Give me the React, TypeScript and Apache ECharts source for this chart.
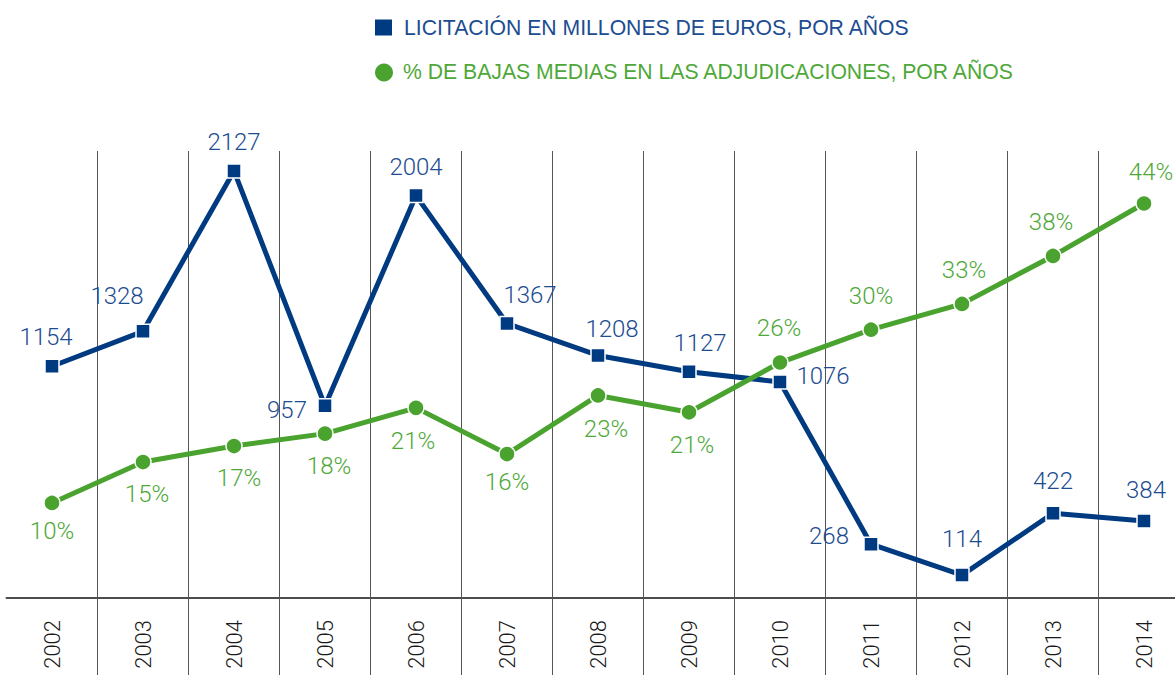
import React, { useEffect, useRef } from "react";
import * as echarts from "echarts";

const years = ["2002", "2003", "2004", "2005", "2006", "2007", "2008", "2009", "2010", "2011", "2012", "2013", "2014"];
const licitacion = [1154, 1328, 2127, 957, 2004, 1367, 1208, 1127, 1076, 268, 114, 422, 384];
const bajas = [10.4, 15.0, 16.8, 18.2, 21.1, 15.9, 22.5, 20.6, 26.2, 29.9, 32.8, 38.2, 44.1];

const legendBlue = "LICITACIÓN EN MILLONES DE EUROS, POR AÑOS";
const legendGreen = "% DE BAJAS MEDIAS EN LAS ADJUDICACIONES, POR AÑOS";

// label offsets relative to each marker (style only)
const blueLabelOffsets = [
  [-6, -29], [-26, -35], [0, -29], [-38, 4], [0, -29], [23, -29], [14, -26],
  [11, -29], [43, -6], [-42, -8], [0, -36], [0, -32], [2, -31],
];
const greenLabelOffsets = [
  [0, 28], [4, 32], [5, 32], [4, 32], [-3, 33], [0, 28], [8, 34],
  [3, 33], [-1, -35], [0, -34], [2, -34], [-2, -34], [7, -32],
];

const BLUE = "#003a80";
const BLUE_TEXT = "#1c4c91";
const GREEN = "#4aa32f";
const GREEN_TEXT = "#4ea838";
const FONT = "Roboto";
const LEGEND_FONT = "'Liberation Sans'";

const CHART_W = 1200;

export default function App() {
  const ref = useRef<HTMLDivElement>(null);
  useEffect(() => {
    if (!ref.current) return;
    const chart = echarts.init(ref.current, null, { renderer: "svg" });
    const tickInterval = (i: number) => i > 0;
    chart.setOption({
      animation: false,
      textStyle: { fontFamily: FONT },
      grid: { left: 6.5, right: CHART_W - 6.5 - 13 * 91, top: 96, bottom: 77 },
      graphic: [
        { type: "rect", left: 375, top: 19.5, shape: { width: 17, height: 16 }, style: { fill: BLUE } },
        {
          type: "text", left: 404, top: 17,
          style: { text: legendBlue, fill: BLUE_TEXT, font: `21.2px ${LEGEND_FONT}` },
        },
        { type: "circle", left: 375, top: 63.5, shape: { r: 9 }, style: { fill: GREEN } },
        {
          type: "text", left: 403, top: 61,
          style: { text: legendGreen, fill: GREEN_TEXT, font: `21.2px ${LEGEND_FONT}` },
        },
      ],
      xAxis: [
        {
          type: "category",
          data: years,
          boundaryGap: true,
          position: "bottom",
          axisLine: { show: true, lineStyle: { color: "#4d4d4d", width: 2 } },
          axisTick: { show: true, inside: true, length: 447, interval: tickInterval, lineStyle: { color: "#555", width: 1 } },
          axisLabel: { rotate: 90, margin: 22, fontSize: 22, color: "#1a1a1a", fontFamily: FONT, fontWeight: 300, interval: 0 },
          splitLine: { show: false },
        },
        {
          type: "category",
          data: years,
          boundaryGap: true,
          position: "bottom",
          gridIndex: 0,
          axisLine: { show: false },
          axisTick: { show: true, inside: false, length: 80, interval: tickInterval, lineStyle: { color: "#555", width: 1 } },
          axisLabel: { show: false },
          splitLine: { show: false },
        },
      ],
      yAxis: [
        { type: "value", min: 0, max: 2500, show: false, splitLine: { show: false } },
        { type: "value", min: -0.3, max: 56.2, show: false, splitLine: { show: false } },
      ],
      series: [
        {
          name: legendBlue,
          type: "line",
          xAxisIndex: 0,
          yAxisIndex: 0,
          symbol: "rect",
          symbolSize: 14,
          lineStyle: { color: BLUE, width: 5 },
          itemStyle: { color: BLUE, borderColor: "#fff", borderWidth: 1.5 },
          label: {
            show: true,
            position: "inside",
            fontSize: 24,
            fontWeight: 300,
            fontFamily: FONT,
            color: BLUE_TEXT,
          },
          data: licitacion.map((v, i) => ({ value: v, label: { offset: blueLabelOffsets[i] } })),
          z: 3,
        },
        {
          name: legendGreen,
          type: "line",
          xAxisIndex: 0,
          yAxisIndex: 1,
          symbol: "circle",
          symbolSize: 16,
          lineStyle: { color: GREEN, width: 5 },
          itemStyle: { color: GREEN, borderColor: "#fff", borderWidth: 1.5 },
          label: {
            show: true,
            position: "inside",
            fontSize: 24,
            fontWeight: 300,
            fontFamily: FONT,
            color: GREEN_TEXT,
            formatter: (p: any) => Math.round(p.value) + "%",
          },
          data: bajas.map((v, i) => ({ value: v, label: { offset: greenLabelOffsets[i] } })),
          z: 4,
        },
      ],
    });
    return () => chart.dispose();
  }, []);
  return (
    <div
      style={{ position: "fixed", left: 0, top: 0, width: 1175, height: 675, overflow: "hidden", background: "#fff" }}
    >
      <div ref={ref} style={{ width: CHART_W, height: 675 }} />
    </div>
  );
}
